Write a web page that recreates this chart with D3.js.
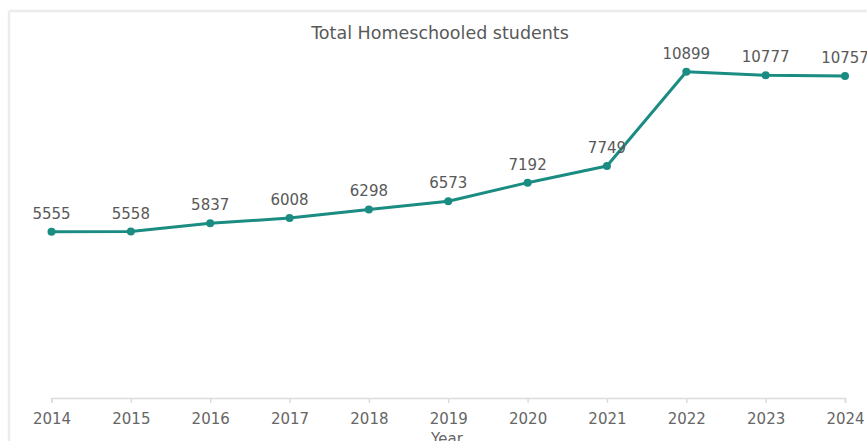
<!DOCTYPE html>
<html><head><meta charset="utf-8">
<script src="https://cdn.jsdelivr.net/npm/d3@7"></script>
<style>
html,body{margin:0;padding:0;background:#fff;}
svg{display:block;font-family:"DejaVu Sans",Verdana,sans-serif;}
</style></head>
<body><svg id="c" width="867" height="441"></svg>
<script>
const years = ["2014","2015","2016","2017","2018","2019","2020","2021","2022","2023","2024"];
const students = [5555,5558,5837,6008,6298,6573,7192,7749,10899,10777,10757];
const yDomain = [0, 12000];
const title = "Total Homeschooled students";
const xTitle = "Year";

const svg = d3.select("#c");
const data = years.map((y,i)=>({year:y, value:students[i]}));

// frame
svg.append("line").attr("x1",9).attr("x2",867).attr("y1",11).attr("y2",11).attr("stroke","#ececec").attr("stroke-width",2.5);
svg.append("line").attr("x1",9).attr("x2",9).attr("y1",11).attr("y2",441).attr("stroke","#ececec").attr("stroke-width",2.5);

const x = d3.scalePoint().domain(years).range([51.5,845]);
const y = d3.scaleLinear().domain(yDomain).range([398, 38.7]);

svg.append("text").attr("x",440).attr("y",39).attr("text-anchor","middle")
  .attr("font-size",17.5).attr("fill","#595959").text(title);

const xa = svg.append("g").attr("transform","translate(0,398)")
  .call(d3.axisBottom(x).tickSize(5).tickPadding(10));
xa.select(".domain").attr("stroke","#dcdcdc").attr("stroke-width",1.5);
xa.selectAll(".tick line").attr("stroke","#dcdcdc").attr("stroke-width",1.5);
xa.selectAll(".tick text").attr("font-size",15).attr("fill","#666").attr("font-family","DejaVu Sans, Verdana, sans-serif");

svg.append("text").attr("x",447).attr("y",444).attr("text-anchor","middle")
  .attr("font-size",15).attr("fill","#666").text(xTitle);

const line = d3.line().x(d=>x(d.year)).y(d=>y(d.value));
svg.append("path").datum(data).attr("d",line).attr("fill","none")
  .attr("stroke","#1a8c82").attr("stroke-width",3).attr("stroke-linejoin","round");

svg.selectAll("circle.pt").data(data).enter().append("circle").attr("class","pt")
  .attr("cx",d=>x(d.year)).attr("cy",d=>y(d.value)).attr("r",4).attr("fill","#1a8c82");

svg.selectAll("text.lbl").data(data).enter().append("text").attr("class","lbl")
  .attr("x",d=>x(d.year)).attr("y",d=>y(d.value)-13).attr("text-anchor","middle")
  .attr("font-size",15).attr("fill","#595959").text(d=>d.value);
</script></body></html>
